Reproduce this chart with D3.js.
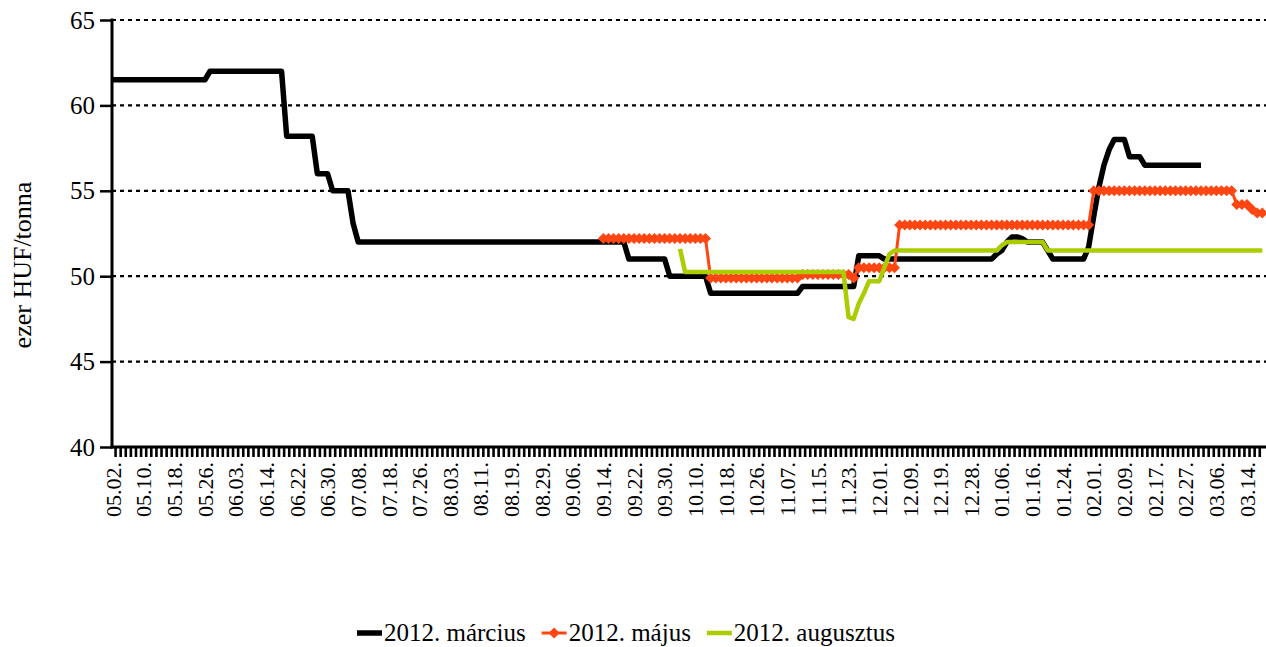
<!DOCTYPE html>
<html>
<head>
<meta charset="utf-8">
<script src="https://cdn.jsdelivr.net/npm/d3@7"></script>
<style>
  body { margin: 0; background: #fff; }
  svg { display: block; }
  svg text { font-family: "Liberation Serif", "Times New Roman", serif; }
</style>
</head>
<body>
<div id="chart"></div>
<script>
// trading days on the category axis, one label every 6th day
const N = 226;
const tickLabels = ["05.02.","05.10.","05.18.","05.26.","06.03.","06.14.","06.22.","06.30.","07.08.","07.18.",
  "07.26.","08.03.","08.11.","08.19.","08.29.","09.06.","09.14.","09.22.","09.30.","10.10.",
  "10.18.","10.26.","11.07.","11.15.","11.23.","12.01.","12.09.","12.19.","12.28.","01.06.",
  "01.16.","01.24.","02.01.","02.09.","02.17.","02.27.","03.06.","03.14."];
const yTicks = [40, 45, 50, 55, 60, 65];
const seriesNames = ["2012. március", "2012. május", "2012. augusztus"];

// ezer HUF/tonna, starting at the given category index
const marciusStart = 0;
const marcius = [
  61.5,61.5,61.5,61.5,61.5,61.5,61.5,61.5,61.5,61.5,
  61.5,61.5,61.5,61.5,61.5,61.5,61.5,61.5,61.5,62,
  62,62,62,62,62,62,62,62,62,62,
  62,62,62,62,58.2,58.2,58.2,58.2,58.2,58.2,
  56,56,56,55,55,55,55,53.1,52,52,
  52,52,52,52,52,52,52,52,52,52,
  52,52,52,52,52,52,52,52,52,52,
  52,52,52,52,52,52,52,52,52,52,
  52,52,52,52,52,52,52,52,52,52,
  52,52,52,52,52,52,52,52,52,52,
  52,51,51,51,51,51,51,51,51,50,
  50,50,50,50,50,50,50,49,49,49,
  49,49,49,49,49,49,49,49,49,49,
  49,49,49,49,49,49.4,49.4,49.4,49.4,49.4,
  49.4,49.4,49.4,49.4,49.4,49.4,51.2,51.2,51.2,51.2,
  51.2,51,51,51,51,51,51,51,51,51,
  51,51,51,51,51,51,51,51,51,51,
  51,51,51,51.3,51.5,52,52.3,52.3,52.2,52,
  52,52,52,51.5,51,51,51,51,51,51,
  51,51.7,53.5,55.2,56.5,57.4,58,58,58,57,
  57,57,56.5,56.5,56.5,56.5,56.5,56.5,56.5,56.5,
  56.5,56.5,56.5,56.5
];
const majusStart = 96;
const majus = [
  52.2,52.2,52.2,52.2,
  52.2,52.2,52.2,52.2,52.2,52.2,52.2,52.2,52.2,52.2,
  52.2,52.2,52.2,52.2,52.2,52.2,52.2,49.9,49.9,49.9,
  49.9,49.9,49.9,49.9,49.9,49.9,49.9,49.9,49.9,49.9,
  49.9,49.9,49.9,49.9,49.9,50.1,50.1,50.1,50.1,50.1,
  50.1,50.1,50.1,50.1,50.1,49.9,50.5,50.5,50.5,50.5,
  50.5,50.5,50.5,50.5,53,53,53,53,53,53,
  53,53,53,53,53,53,53,53,53,53,
  53,53,53,53,53,53,53,53,53,53,
  53,53,53,53,53,53,53,53,53,53,
  53,53,55,55,55,55,55,55,55,55,
  55,55,55,55,55,55,55,55,55,55,
  55,55,55,55,55,55,55,55,55,55,
  54.2,54.2,54.2,53.9,53.7,53.7
];
const augusztusStart = 111;
const augusztus = [
  51.6,50.25,50.25,50.25,50.25,50.25,50.25,50.25,50.25,
  50.25,50.25,50.25,50.25,50.25,50.25,50.25,50.25,50.25,50.25,
  50.25,50.25,50.25,50.25,50.25,50.25,50.25,50.25,50.25,50.25,
  50.25,50.25,50.25,50.25,47.6,47.5,48.4,49,49.7,49.7,
  49.7,50.5,51.3,51.5,51.5,51.5,51.5,51.5,51.5,51.5,
  51.5,51.5,51.5,51.5,51.5,51.5,51.5,51.5,51.5,51.5,
  51.5,51.5,51.5,51.5,51.8,52,52,52,52,52,
  52,52,52,51.5,51.5,51.5,51.5,51.5,51.5,51.5,
  51.5,51.5,51.5,51.5,51.5,51.5,51.5,51.5,51.5,51.5,
  51.5,51.5,51.5,51.5,51.5,51.5,51.5,51.5,51.5,51.5,
  51.5,51.5,51.5,51.5,51.5,51.5,51.5,51.5,51.5,51.5,
  51.5,51.5,51.5,51.5,51.5,51.5
];

const W = 1266, H = 647;
const svg = d3.select("#chart").append("svg").attr("width", W).attr("height", H);

const x = d3.scaleBand().domain(d3.range(N)).range([110.45, 110.45 + N * 5.108]);
const cx = i => x(i) + x.bandwidth() / 2;
const y = d3.scaleLinear().domain([40, 65]).range([447, 20]);

// dotted gridlines
svg.append("g").selectAll("line")
  .data(yTicks.filter(d => d > 40))
  .join("line")
  .attr("x1", 112).attr("x2", W)
  .attr("y1", d => y(d)).attr("y2", d => y(d))
  .attr("stroke", "#000").attr("stroke-width", 2.2)
  .attr("stroke-dasharray", "4,4");

// y axis
const yAxis = svg.append("g")
  .attr("transform", "translate(112,0)")
  .call(d3.axisLeft(y).tickValues(yTicks).tickSize(12).tickPadding(5));
yAxis.select(".domain").remove();
yAxis.selectAll(".tick line").attr("stroke-width", 2.5);
yAxis.selectAll(".tick text").attr("font-size", "25px").attr("fill", "#000");
svg.append("line").attr("x1", 112).attr("x2", 112).attr("y1", 18.5).attr("y2", 448.5)
  .attr("stroke", "#000").attr("stroke-width", 3);

// x axis: a tick at every category boundary
svg.append("g").selectAll("line")
  .data(d3.range(1, N))
  .join("line")
  .attr("x1", d => x(d)).attr("x2", d => x(d))
  .attr("y1", 447).attr("y2", 457)
  .attr("stroke", "#000").attr("stroke-width", 2.6);
svg.append("line").attr("x1", 110.5).attr("x2", W).attr("y1", 447).attr("y2", 447)
  .attr("stroke", "#000").attr("stroke-width", 3);

svg.append("g").selectAll("text")
  .data(tickLabels)
  .join("text")
  .attr("transform", (d, k) => `translate(${cx(k * 6)},462) rotate(-90)`)
  .attr("text-anchor", "end")
  .attr("dy", "0.35em")
  .attr("font-size", "22px")
  .text(d => d);

svg.append("text")
  .attr("transform", "translate(22,265) rotate(-90)")
  .attr("text-anchor", "middle")
  .attr("dy", "0.35em")
  .attr("font-size", "26px")
  .text("ezer HUF/tonna");

// series
const toPoints = (vals, start) => vals.map((v, k) => ({ i: start + k, v: v }));
const line = d3.line().x(d => cx(d.i)).y(d => y(d.v));
const diamond = "M0,-5.5L5.5,0L0,5.5L-5.5,0Z";

const series = [
  { name: seriesNames[0], color: "#000000", width: 5.5, pts: toPoints(marcius, marciusStart), marker: false },
  { name: seriesNames[1], color: "#ff4612", width: 3, pts: toPoints(majus, majusStart), marker: true },
  { name: seriesNames[2], color: "#aacc00", width: 4.5, pts: toPoints(augusztus, augusztusStart), marker: false }
];

series.forEach(s => {
  svg.append("path")
    .datum(s.pts)
    .attr("fill", "none")
    .attr("stroke", s.color)
    .attr("stroke-width", s.width)
    .attr("stroke-linejoin", "round")
    .attr("d", line);
  if (s.marker) {
    svg.append("g").selectAll("path")
      .data(s.pts)
      .join("path")
      .attr("transform", d => `translate(${cx(d.i)},${y(d.v)})`)
      .attr("d", diamond)
      .attr("fill", s.color);
  }
});

// legend
let lx = 357;
const ly = 633;
series.forEach(s => {
  svg.append("line").attr("x1", lx).attr("x2", lx + 25).attr("y1", ly).attr("y2", ly)
    .attr("stroke", s.color).attr("stroke-width", s.width);
  if (s.marker) {
    svg.append("path").attr("transform", `translate(${lx + 12.5},${ly})`).attr("d", diamond).attr("fill", s.color);
  }
  const t = svg.append("text")
    .attr("x", lx + 27).attr("y", ly + 8)
    .attr("font-size", "25px")
    .text(s.name);
  lx += 27 + t.node().getComputedTextLength() + 16;
});
</script>
</body>
</html>
